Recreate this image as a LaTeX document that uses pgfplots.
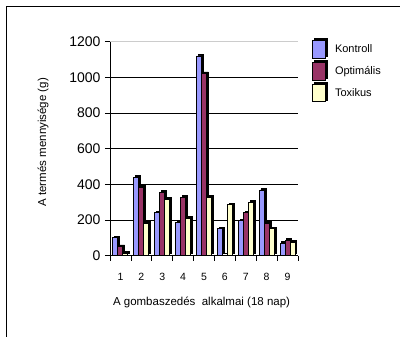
\documentclass[border=0pt]{standalone}
\usepackage{pgfplots}
\pgfplotsset{compat=1.18}
\usepackage{fontspec}
\setmainfont{Liberation Sans}
\definecolor{kontroll}{HTML}{9999FF}
\definecolor{optimalis}{HTML}{993366}
\definecolor{toxikus}{HTML}{FFFFCC}
\begin{document}
\begin{tikzpicture}
\path[use as bounding box] (0,0) rectangle (400pt,337pt);
\draw[line width=1pt] (6pt,0pt) -- (6pt,330pt) -- (400pt,330pt);
\begin{axis}[
  at={(110pt,81.3pt)}, anchor=south west,
  scale only axis, width=188pt, height=214pt,
  xmin=0.5, xmax=9.5, ymin=0, ymax=1200,
  axis lines*=left,
  axis line style={line width=0.6pt},
  /pgf/number format/assume math mode=true,
  /pgf/number format/1000 sep={},
  xtick={1,...,9}, major x tick style={draw=none},
  minor xtick={0.5,1.5,...,9.5},
  ytick={0,200,...,1000},
  extra y ticks={1200},
  extra y tick style={grid style={gray!40, line width=0.4pt}},
  tick align=outside, major tick length=5pt, minor tick length=5pt,
  tick style={black, line width=0.6pt},
  ymajorgrids, grid style={black, line width=0.6pt},
  yticklabel style={font=\fontsize{14}{15}\selectfont, xshift=-1pt},
  xticklabel style={font=\fontsize{10.5}{12}\selectfont, yshift=-9pt},
  xlabel={A gombaszedés\ \ alkalmai (18 nap)},
  xlabel style={font=\fontsize{11.5}{13}\selectfont, at={(axis description cs:0.487,-0.22)}, anchor=center},
  ylabel={A termés mennyisége (g)},
  ylabel style={font=\fontsize{11.5}{13}\selectfont, at={(axis description cs:-0.356,0.53)}, anchor=center, rotate=0},
  ybar=0pt, bar width=5pt,
  every axis plot/.append style={draw=black, line width=0.9pt,
     preaction={fill=black, draw=black, line width=0.9pt, transform canvas={xshift=1.8pt,yshift=1.8pt}}},
  legend style={draw=none, at={(axis description cs:1.074,1.008)}, anchor=north west,
     font=\fontsize{11}{12}\selectfont, row sep=3.5pt, inner sep=0pt},
  legend cell align=left,
  legend image code/.code={\draw[#1, line width=0.9pt, preaction={}] (0pt,-8.5pt) rectangle (13pt,9pt); \path (20pt,0pt);},
  clip=false,
]
\addplot[fill=kontroll] coordinates {(1,100) (2,440) (3,240) (4,185) (5,1120) (6,150) (7,195) (8,365) (9,70)};
\addplot[fill=optimalis] coordinates {(1,50) (2,385) (3,355) (4,325) (5,1020) (6,0) (7,240) (8,180) (9,85)};
\addplot[fill=toxikus] coordinates {(1,15) (2,180) (3,315) (4,210) (5,325) (6,285) (7,300) (8,150) (9,75)};
\legend{Kontroll, Optimális, Toxikus}
\end{axis}
\end{tikzpicture}
\end{document}
